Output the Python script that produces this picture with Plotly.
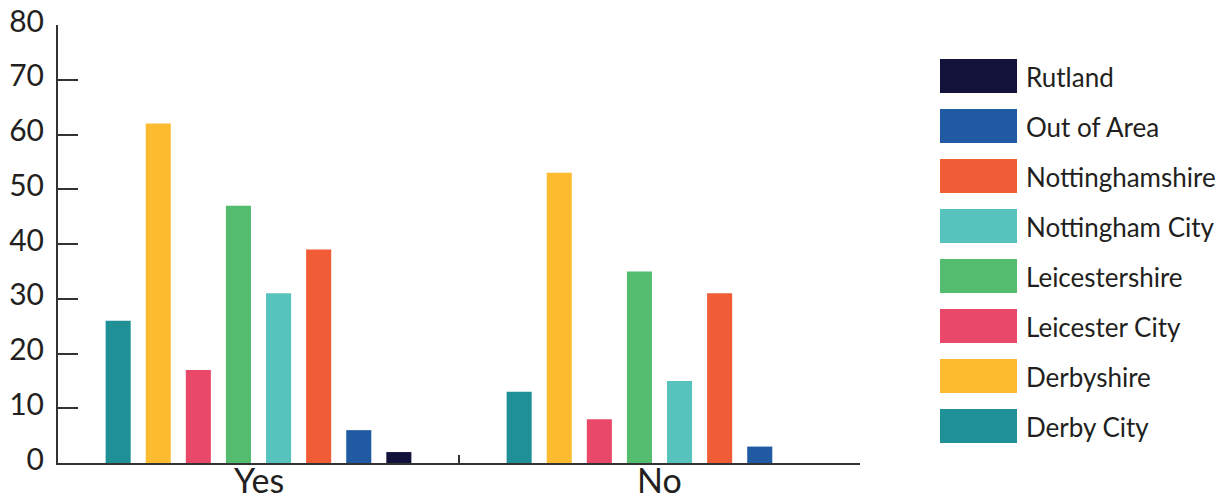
import plotly.graph_objects as go

# Responses by area, split by answer
categories = ["Yes", "No"]
areas = ["Derby City", "Derbyshire", "Leicester City", "Leicestershire",
         "Nottingham City", "Nottinghamshire", "Out of Area", "Rutland"]
yes_counts = [26, 62, 17, 47, 31, 39, 6, 2]
no_counts = [13, 53, 8, 35, 15, 31, 3, 0]
colors = ["#1F9196", "#FDBC2F", "#EA4868", "#54BC6E",
          "#56C4BD", "#F05C36", "#1F5AA3", "#13123A"]
y_ticks = [0, 10, 20, 30, 40, 50, 60, 70, 80]

FONT = "Lato"
TEXT = "#231F20"
AXIS = "#333333"

W, H = 1225, 499
M_L, M_R, M_T, M_B = 58, 365, 25, 36
PW, PH = W - M_L - M_R, H - M_T - M_B

fig = go.Figure()
for i, area in enumerate(areas):
    fig.add_trace(go.Bar(
        name=area,
        x=categories,
        y=[yes_counts[i], no_counts[i]],
        marker=dict(color=colors[i], line=dict(width=0)),
        showlegend=False,
    ))


def px_x(px):
    return (px - M_L) / PW


def px_y(py):
    return (H - M_B - py) / PH


shapes, annotations = [], []

# Category labels set tight under the axis line
for cat in categories:
    annotations.append(dict(
        xref="x", yref="paper", x=cat, y=px_y(479),
        text=cat, showarrow=False, xanchor="center", yanchor="middle",
        font=dict(family=FONT, size=34, color=TEXT), borderpad=0,
    ))

# Legend: large swatches, listed from the last series to the first
for row, i in enumerate(reversed(range(len(areas)))):
    top = 59 + row * 50
    shapes.append(dict(
        type="rect", xref="paper", yref="paper",
        x0=px_x(940), x1=px_x(1017), y0=px_y(top + 34), y1=px_y(top),
        fillcolor=colors[i], line=dict(width=0),
    ))
    annotations.append(dict(
        xref="paper", yref="paper", x=px_x(1024), y=px_y(top + 18),
        text=areas[i], showarrow=False, xanchor="left", yanchor="middle",
        font=dict(family=FONT, size=26, color=TEXT),
    ))

fig.update_layout(
    width=W, height=H,
    margin=dict(l=M_L, r=M_R, t=M_T, b=M_B, pad=0, autoexpand=False),
    paper_bgcolor="white", plot_bgcolor="white",
    barmode="group", bargap=0.2, bargroupgap=0.375,
    showlegend=False,
    shapes=shapes, annotations=annotations,
    xaxis=dict(
        automargin=False, showticklabels=False,
        showgrid=False, showline=True, linecolor=AXIS, linewidth=2,
        ticks="inside", tickson="boundaries", ticklen=8, tickwidth=2,
        tickcolor=AXIS, zeroline=False,
    ),
    yaxis=dict(
        automargin=False,
        range=[0, 80], tickvals=y_ticks, showgrid=False, zeroline=False,
        showline=True, linecolor=AXIS, linewidth=2,
        ticks="inside", ticklen=20, tickwidth=2, tickcolor=AXIS,
        tickfont=dict(family=FONT, size=30, color=TEXT),
        ticklabelstandoff=6, ticklabelshift=-4,
    ),
)

fig.write_html("out.html")
